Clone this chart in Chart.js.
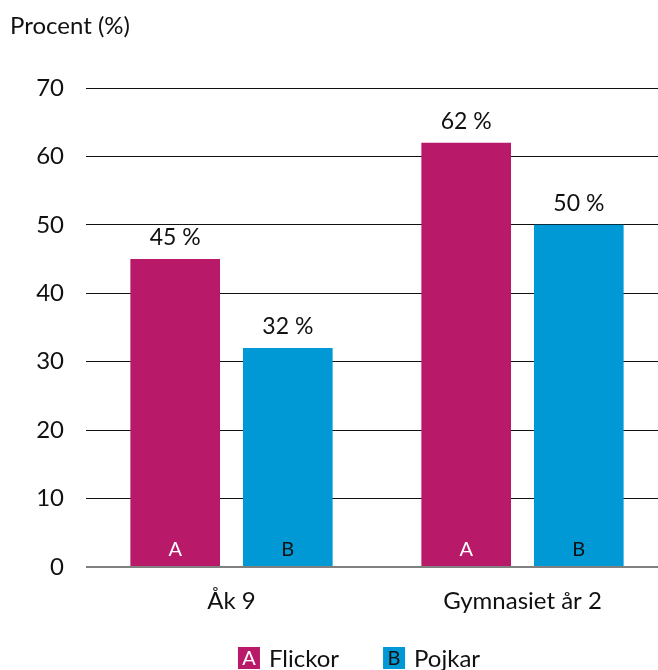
<!DOCTYPE html>
<html>
<head>
<meta charset="utf-8">
<script src="https://cdn.jsdelivr.net/npm/chart.js@4/dist/chart.umd.min.js"></script>
<style>
  html, body { margin: 0; padding: 0; background: #fff; overflow: hidden; }
  #wrap { width: 672px; height: 670px; position: relative; }
</style>
</head>
<body>
<div id="wrap"><canvas id="c"></canvas></div>
<script>
// Andel (%) per årskurs och kön
const categories = ['Åk 9', 'Gymnasiet år 2'];
const seriesNames = ['Flickor', 'Pojkar'];
const seriesKeys = ['A', 'B'];
const flickor = [45, 62];
const pojkar = [32, 50];
const yTicks = [0, 10, 20, 30, 40, 50, 60, 70];

const FONT = 'Lato, "Source Sans Pro", "Open Sans", sans-serif';
const MAGENTA = '#B81A69';
const BLUE = '#0099D6';
const keyTextColors = ['#ffffff', '#111111'];

// Value labels above bars, letter keys inside bar bottoms, and legend below
const barText = {
  id: 'barText',
  afterDatasetsDraw(chart) {
    const { ctx, chartArea } = chart;
    ctx.save();
    chart.data.datasets.forEach((ds, di) => {
      const meta = chart.getDatasetMeta(di);
      meta.data.forEach((bar, i) => {
        ctx.font = '23px ' + FONT;
        ctx.fillStyle = '#111';
        ctx.textAlign = 'center';
        ctx.textBaseline = 'middle';
        ctx.fillText(ds.data[i] + ' %', bar.x, bar.y - 21);
        ctx.font = '20px ' + FONT;
        ctx.fillStyle = keyTextColors[di];
        ctx.fillText(seriesKeys[di], bar.x, chartArea.bottom - 17);
      });
    });
    // legend
    const y = 658;
    const box = 22;
    const items = seriesNames.map((n, i) => ({ name: n, key: seriesKeys[i], color: chart.data.datasets[i].backgroundColor }));
    ctx.font = '24px ' + FONT;
    const gap = 44;
    const widths = items.map(it => box + 9 + ctx.measureText(it.name).width);
    const total = widths.reduce((a, b) => a + b, 0) + gap * (items.length - 1);
    let x = 359 - total / 2;
    items.forEach((it, i) => {
      ctx.fillStyle = it.color;
      ctx.fillRect(x, y - box / 2, box, box);
      ctx.font = '20px ' + FONT;
      ctx.fillStyle = keyTextColors[i];
      ctx.textAlign = 'center';
      ctx.textBaseline = 'middle';
      ctx.fillText(it.key, x + box / 2, y + 1);
      ctx.font = '24px ' + FONT;
      ctx.fillStyle = '#111';
      ctx.textAlign = 'left';
      ctx.fillText(it.name, x + box + 9, y + 1);
      x += widths[i] + gap;
    });
    ctx.restore();
  }
};

new Chart(document.getElementById('c'), {
  type: 'bar',
  data: {
    labels: categories,
    datasets: [
      { label: seriesNames[0], data: flickor, backgroundColor: MAGENTA, barPercentage: 0.796, categoryPercentage: 0.774 },
      { label: seriesNames[1], data: pojkar, backgroundColor: BLUE, barPercentage: 0.796, categoryPercentage: 0.774 }
    ]
  },
  options: {
    responsive: true,
    maintainAspectRatio: false,
    animation: false,
    layout: { padding: { left: 10, right: 4, top: 0, bottom: 43 } },
    plugins: {
      legend: { display: false },
      tooltip: { enabled: false },
      title: {
        display: true,
        text: 'Procent (%)',
        align: 'start',
        color: '#111',
        font: { family: FONT, size: 24, weight: 'normal' },
        padding: { top: 11.6, bottom: 47.6 }
      }
    },
    scales: {
      x: {
        grid: { display: false, drawTicks: false },
        border: { display: false },
        ticks: { color: '#111', padding: 20, font: { family: FONT, size: 24 } },
        afterFit(s) { s.height = 60; }
      },
      y: {
        min: 0,
        max: 70,
        afterBuildTicks(s) { s.ticks = yTicks.map(v => ({ value: v })); },
        grid: {
          drawTicks: false,
          color: c => c.tick && c.tick.value === 0 ? '#808080' : '#111',
          lineWidth: c => c.tick && c.tick.value === 0 ? 2 : 1
        },
        border: { display: false },
        ticks: { color: '#111', padding: 22, font: { family: FONT, size: 24 } },
        afterFit(s) { s.width = 76; }
      }
    }
  },
  plugins: [barText]
});
</script>
</body>
</html>
